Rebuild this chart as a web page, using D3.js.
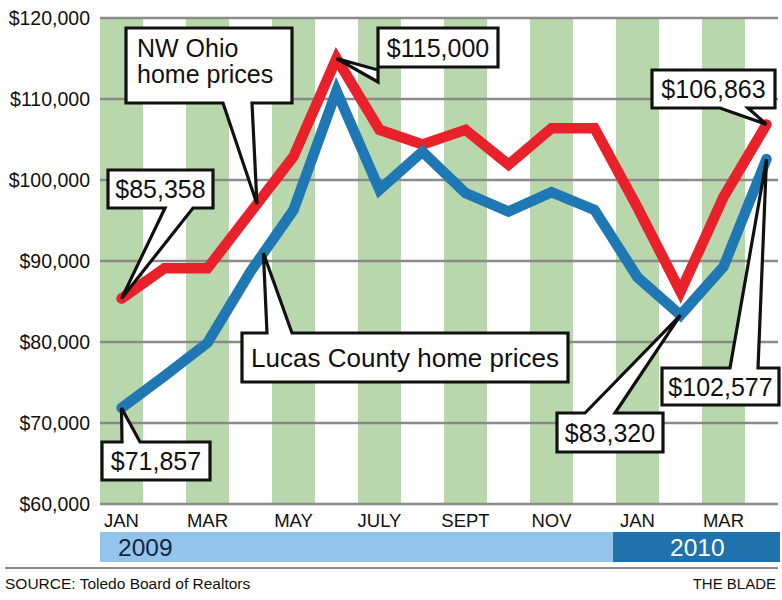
<!DOCTYPE html>
<html>
<head>
<meta charset="utf-8">
<script src="https://cdn.jsdelivr.net/npm/d3@7"></script>
<style>
  body { margin: 0; background: #fff; }
  text { font-family: "Liberation Sans", Arial, Helvetica, sans-serif; }
</style>
</head>
<body>
<div id="chart"></div>
<script>
// Jan 2009 .. Apr 2010
const months = ['JAN', 'FEB', 'MAR', 'APR', 'MAY', 'JUNE', 'JULY', 'AUG', 'SEPT', 'OCT', 'NOV', 'DEC',
  'JAN', 'FEB', 'MAR', 'APR']
const years = [2009, 2009, 2009, 2009, 2009, 2009, 2009, 2009, 2009, 2009, 2009, 2009, 2010, 2010, 2010, 2010]
const nwOhio = [85358, 89100, 89100, 96000, 102900, 115000, 106200, 104400, 106200, 101900, 106400, 106400,
  96600, 86200, 97900, 106863]
const lucas = [71857, 75800, 79900, 88700, 96300, 111000, 98800, 103500, 98400, 96100, 98500, 96300,
  88000, 83320, 89300, 102577]
const yTicks = [60000, 70000, 80000, 90000, 100000, 110000, 120000]
const yearNames = ['2009', '2010']

const width = 782, height = 600
const plotL = 100, plotR = 778, plotT = 18, plotB = 504
const step = 43

const svg = d3.select('#chart').append('svg')
  .attr('width', width).attr('height', height)

const x = d3.scaleBand().domain(d3.range(months.length)).range([plotL, plotL + step * months.length]).padding(0)
const xc = i => x(i) + x.bandwidth() / 2
const y = d3.scaleLinear().domain([60000, 120000]).range([plotB, plotT])

svg.append('clipPath').attr('id', 'plot')
  .append('rect').attr('x', plotL).attr('y', 0).attr('width', plotR - plotL).attr('height', plotB + 2)

// green stripes
svg.append('g').attr('clip-path', 'url(#plot)')
  .selectAll('rect').data(d3.range(months.length).filter(i => i % 2 === 0))
  .join('rect')
  .attr('x', i => x(i)).attr('width', x.bandwidth())
  .attr('y', plotT).attr('height', plotB - plotT)
  .attr('fill', '#b9d7ad')

// gridlines + y labels
const yAxis = svg.append('g')
yAxis.selectAll('line').data(yTicks).join('line')
  .attr('x1', plotL).attr('x2', plotR)
  .attr('y1', d => y(d)).attr('y2', d => y(d))
  .attr('stroke', '#8a8a8a').attr('stroke-width', 2.5)
yAxis.selectAll('text').data(yTicks).join('text')
  .attr('x', 90).attr('y', d => y(d) + 7)
  .attr('text-anchor', 'end')
  .attr('font-size', 19.5)
  .attr('fill', '#111')
  .text(d3.format('$,'))

// x labels (every other month)
svg.append('g').selectAll('text')
  .data(d3.range(months.length).filter(i => i % 2 === 0))
  .join('text')
  .attr('x', i => xc(i)).attr('y', 527)
  .attr('text-anchor', 'middle')
  .attr('font-size', 18.5)
  .attr('fill', '#111')
  .text(i => months[i])

// year bar
const firstIdx = yr => years.indexOf(+yr)
const split = x(firstIdx(yearNames[1])) - 3
const yearBar = svg.append('g')
yearBar.selectAll('rect').data(yearNames).join('rect')
  .attr('x', (d, k) => k === 0 ? plotL : split)
  .attr('width', (d, k) => k === 0 ? split - plotL : plotR + 2 - split)
  .attr('y', 532).attr('height', 30)
  .attr('fill', (d, k) => k === 0 ? '#93c5ea' : '#1f72ac')
yearBar.selectAll('text').data(yearNames).join('text')
  .attr('x', (d, k) => k === 0 ? 118 : 670)
  .attr('y', 556)
  .attr('font-size', 24.5)
  .attr('fill', (d, k) => k === 0 ? '#13243f' : '#fff')
  .text(d => d)

// lines
const line = d3.line().x((d, i) => xc(i)).y(d => y(d))
svg.append('path').datum(nwOhio)
  .attr('d', line).attr('fill', 'none')
  .attr('stroke', '#e8212b').attr('stroke-width', 10.5)
  .attr('stroke-linejoin', 'miter').attr('stroke-linecap', 'round')
svg.append('path').datum(lucas)
  .attr('d', line).attr('fill', 'none')
  .attr('stroke', '#1f78b4').attr('stroke-width', 10.5)
  .attr('stroke-linejoin', 'miter').attr('stroke-linecap', 'round')

// point on a series at a fractional month index
function at(series, t) {
  const i = Math.floor(t), f = t - i
  const v = f === 0 ? series[i] : series[i] + (series[i + 1] - series[i]) * f
  return [xc(0) + t * step, y(v)]
}

const fmt = d3.format('$,')
const callouts = [
  { lines: ['NW Ohio', 'home prices'], box: [126, 28, 166, 75], side: 'bottom', base: [223, 252], target: at(nwOhio, 3.15), align: 'start' },
  { lines: [fmt(nwOhio[0])], box: [108, 170, 105, 38], side: 'bottom', base: [165, 193], target: at(nwOhio, 0) },
  { lines: [fmt(nwOhio[5])], box: [378, 28, 120, 39], side: 'left', base: [42, 54], target: at(nwOhio, 5) },
  { lines: [fmt(nwOhio[15])], box: [652, 70, 123, 38], side: 'bottom', base: [720, 748], target: at(nwOhio, 15) },
  { lines: ['Lucas County home prices'], box: [242, 333, 326, 49], side: 'top', base: [267, 292], target: at(lucas, 3.3), size: 26 },
  { lines: [fmt(lucas[0])], box: [102, 442, 108, 38], side: 'top', base: [122, 140], target: at(lucas, 0) },
  { lines: [fmt(lucas[13])], box: [557, 413, 106, 39], side: 'top', base: [585, 615], target: at(lucas, 13) },
  { lines: [fmt(lucas[15])], box: [662, 368, 117, 37], side: 'top', base: [730, 758], target: at(lucas, 15) }
]

function calloutPath(c) {
  const [bx, by, bw, bh] = c.box
  const x1 = bx + bw, y1 = by + bh
  const [a, b] = c.base
  const [px, py] = c.target
  const p = d3.path()
  p.moveTo(bx, by)
  if (c.side === 'top') { p.lineTo(a, by); p.lineTo(px, py); p.lineTo(b, by) }
  p.lineTo(x1, by)
  p.lineTo(x1, y1)
  if (c.side === 'bottom') { p.lineTo(b, y1); p.lineTo(px, py); p.lineTo(a, y1) }
  p.lineTo(bx, y1)
  if (c.side === 'left') { p.lineTo(bx, by + b); p.lineTo(px, py); p.lineTo(bx, by + a) }
  p.closePath()
  return p.toString()
}

const cg = svg.append('g').selectAll('g').data(callouts).join('g')
cg.append('path')
  .attr('d', calloutPath)
  .attr('fill', '#fff').attr('stroke', '#111').attr('stroke-width', 3.2)
  .attr('stroke-linejoin', 'miter')
cg.each(function (c) {
  const [bx, by, bw, bh] = c.box
  const g = d3.select(this)
  c.lines.forEach((t, k) => {
    g.append('text')
      .attr('x', c.align === 'start' ? bx + 11 : bx + bw / 2)
      .attr('y', c.lines.length > 1 ? by + 29 + k * 26 : by + bh / 2 + 9)
      .attr('text-anchor', c.align === 'start' ? 'start' : 'middle')
      .attr('font-size', c.size || 25)
      .attr('fill', '#111')
      .text(t)
  })
})

// footer
svg.append('line').attr('x1', 5).attr('x2', plotR).attr('y1', 568).attr('y2', 568)
  .attr('stroke', '#666').attr('stroke-width', 1.5)
svg.append('text').attr('x', 5).attr('y', 589)
  .attr('font-size', 15.5).attr('fill', '#111')
  .text('SOURCE: Toledo Board of Realtors')
svg.append('text').attr('x', 776).attr('y', 589)
  .attr('text-anchor', 'end')
  .attr('font-size', 15).attr('fill', '#111')
  .text('THE BLADE')
</script>
</body>
</html>
